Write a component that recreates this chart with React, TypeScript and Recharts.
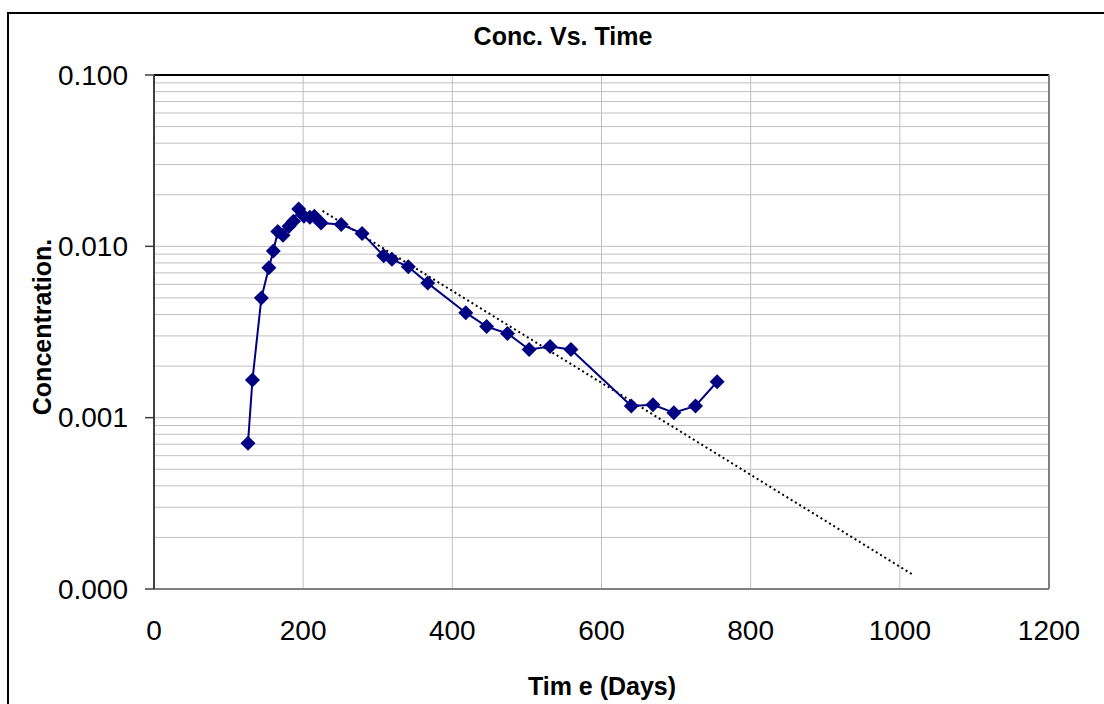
import React from 'react';
import { LineChart, Line, XAxis, YAxis, CartesianGrid, ReferenceLine } from 'recharts';

const days = [126, 132, 144, 154, 160, 166, 173, 181, 187, 194, 201, 209, 215, 224, 251, 279, 308, 319, 341, 367, 418, 446, 474, 503, 531, 559, 640, 669, 697, 726, 755];
const conc = [0.00071, 0.00166, 0.005, 0.0075, 0.0094, 0.0122, 0.0116, 0.0131, 0.014, 0.0165, 0.015, 0.0148, 0.015, 0.0137, 0.0134, 0.0119, 0.0088, 0.0084, 0.0076, 0.0061, 0.0041, 0.0034, 0.0031, 0.0025, 0.0026, 0.0025, 0.00117, 0.00119, 0.00107, 0.00117, 0.00162];

// exponential trend line, end points only
const trendDays = [226, 1019];
const trendConc = [0.0161, 0.00012];

const xTicks = [0, 200, 400, 600, 800, 1000, 1200];
const decadeTicks = [0.0001, 0.001, 0.01, 0.1];
const minorTicks = [
  0.0002, 0.0003, 0.0004, 0.0005, 0.0006, 0.0007, 0.0008, 0.0009,
  0.002, 0.003, 0.004, 0.005, 0.006, 0.007, 0.008, 0.009,
  0.02, 0.03, 0.04, 0.05, 0.06, 0.07, 0.08, 0.09,
];

const series = days.map((t, i) => ({ t, c: conc[i] }));
const trend = trendDays.map((t, i) => ({ t, c: trendConc[i] }));
const yTicks = [...decadeTicks, ...minorTicks].sort((a, b) => a - b);

const FONT = '"Liberation Sans", Arial, sans-serif';

const Diamond = (props: any) => {
  const { cx, cy } = props;
  if (cx == null || cy == null) return null;
  const r = 7.5;
  return <polygon points={`${cx},${cy - r} ${cx + r},${cy} ${cx},${cy + r} ${cx - r},${cy}`} fill="#000080" />;
};

const YTick = (props: any) => {
  const { x, y, payload } = props;
  if (!decadeTicks.includes(payload.value)) return null;
  return (
    <g>
      <line x1={x + 17} x2={x + 26} y1={y} y2={y} stroke="#404040" strokeWidth={1.5} />
      <text x={x} y={y} dy="0.35em" textAnchor="end" fontSize={28} fontFamily={FONT} fill="#000">
        {payload.value.toFixed(3)}
      </text>
    </g>
  );
};

const App = () => {
  return (
    <div style={{ position: 'fixed', left: 0, top: 0, width: 1104, height: 704, background: '#fff', overflow: 'hidden' }}>
      <div style={{ position: 'absolute', left: 7, top: 12, width: 1200, height: 800, borderTop: '2px solid #000', borderLeft: '2px solid #000' }} />
      <LineChart width={1104} height={704} data={series} margin={{ top: 75, right: 55, bottom: 0, left: 0 }}>
        <CartesianGrid stroke="#c0c0c0" strokeWidth={1} ticks={yTicks} />
        <XAxis
          dataKey="t"
          type="number"
          domain={[0, 1200]}
          ticks={xTicks}
          height={115}
          tickSize={0}
          tickMargin={31}
          axisLine={{ stroke: '#808080', strokeWidth: 2 }}
          tick={{ fontSize: 28, fontFamily: FONT, fill: '#000' }}
          allowDataOverflow
        />
        <YAxis
          dataKey="c"
          type="number"
          scale="log"
          domain={[0.0001, 0.1]}
          ticks={yTicks}
          interval={0}
          width={154}
          tickSize={9}
          tickMargin={17}
          tickLine={false}
          axisLine={{ stroke: '#404040', strokeWidth: 2 }}
          tick={<YTick />}
          allowDataOverflow
        />
        <ReferenceLine y={0.1} stroke="#000" strokeWidth={2} />
        <ReferenceLine x={1200} stroke="#808080" strokeWidth={2} />
        <Line
          data={trend}
          dataKey="c"
          stroke="#000"
          strokeWidth={2}
          strokeDasharray="2 3"
          dot={false}
          activeDot={false}
          isAnimationActive={false}
        />
        <Line
          data={series}
          dataKey="c"
          stroke="#000080"
          strokeWidth={2}
          dot={<Diamond />}
          activeDot={false}
          isAnimationActive={false}
        />
      </LineChart>
      <div style={{ position: 'absolute', left: 0, width: 1126, top: 22, textAlign: 'center', fontFamily: FONT, fontWeight: 'bold', fontSize: 25 }}>
        Conc. Vs. Time
      </div>
      <div style={{ position: 'absolute', left: 0, width: 1204, top: 672, textAlign: 'center', fontFamily: FONT, fontWeight: 'bold', fontSize: 25 }}>
        Tim e (Days)
      </div>
      <div
        style={{
          position: 'absolute',
          left: 42,
          top: 327,
          transform: 'translate(-50%, -50%) rotate(-90deg)',
          whiteSpace: 'nowrap',
          fontFamily: FONT,
          fontWeight: 'bold',
          fontSize: 25,
        }}
      >
        Concentration.
      </div>
    </div>
  );
};

export default App;
